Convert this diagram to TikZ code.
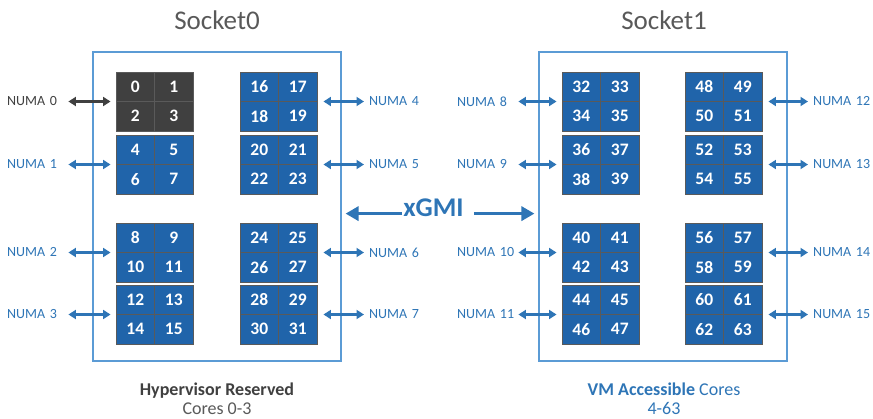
\documentclass[tikz,border=0pt]{standalone}
\usepackage{fontspec}
\setmainfont{Carlito}
\usetikzlibrary{arrows.meta,positioning,calc}
\definecolor{coreblue}{RGB}{32,100,170}
\definecolor{numablue}{RGB}{46,117,182}
\definecolor{sockline}{RGB}{91,155,213}
\definecolor{hvgray}{RGB}{64,64,64}
\definecolor{titlegray}{RGB}{89,89,89}
\definecolor{cellline}{RGB}{90,90,90}

\begin{document}
\begin{tikzpicture}[
  x=1pt, y=-1pt,
  socket/.style={draw=sockline, line width=1.1pt, minimum width=248pt, minimum height=309pt, inner sep=0pt},
  block/.style={draw=cellline!80, line width=0.9pt, minimum width=77pt, minimum height=59pt, inner sep=0pt},
  cell/.style={draw=cellline, line width=0.8pt, minimum width=38.5pt, minimum height=29.5pt, inner sep=0pt,
    text=white, font=\fontsize{17.5}{19}\selectfont\bfseries},
  numalab/.style={anchor=west, inner sep=0pt, text width=61pt, align=left, font=\fontsize{14}{16}\selectfont},
  title/.style={font=\fontsize{27}{30}\selectfont, text=titlegray},
  foot/.style={anchor=base, font=\fontsize{18}{20}\selectfont},
  biarr/.style={{Triangle[length=7.5pt,width=9pt]}-{Triangle[length=7.5pt,width=9pt]}, line width=2.2pt},
  xarr/.style={-{Triangle[length=13pt,width=14pt]}, line width=3.6pt, draw=numablue}
]
\useasboundingbox (0,0) rectangle (873,418);

% ---------- Sockets ----------
\node[socket] (s0) at (217,206.5) {};
\node[socket] (s1) at (663,206.5) {};
\node[title] (t0) at (217,20) {Socket0};
\node[title] (t1) at (664,20) {Socket1};

% ---------- NUMA blocks, cores and labels ----------
\foreach \k in {0,...,15}{
  \pgfmathtruncatemacro{\col}{2*int(\k/8)+int(mod(\k,8)/4)}
  \pgfmathtruncatemacro{\row}{mod(\k,4)}
  \pgfmathsetmacro{\bx}{{116,240,562,685}[\col]+38.5}
  \pgfmathsetmacro{\by}{{72,135,223,285}[\row]+29.5}
  \pgfmathsetmacro{\lx}{{7,369,457,813}[\col]}
  \pgfmathtruncatemacro{\na}{4*\k}
  \pgfmathtruncatemacro{\nb}{4*\k+1}
  \pgfmathtruncatemacro{\nc}{4*\k+2}
  \pgfmathtruncatemacro{\nd}{4*\k+3}
  \ifnum\k=0 \def\tone{hvgray}\def\ltone{hvgray}\else\def\tone{coreblue}\def\ltone{numablue}\fi
  \node[block, fill=\tone] (b\k) at (\bx,\by) {};
  \node[cell, fill=\tone] (c\na) at (\bx-19.25,\by-14.75) {\na};
  \node[cell, fill=\tone] (c\nb) at (\bx+19.25,\by-14.75) {\nb};
  \node[cell, fill=\tone] (c\nc) at (\bx-19.25,\by+14.75) {\nc};
  \node[cell, fill=\tone] (c\nd) at (\bx+19.25,\by+14.75) {\nd};
  \node[numalab, text=\ltone] (n\k) at (\lx,\by) {NUMA \k};
  \ifodd\col\relax
    \draw[biarr, \ltone, shorten <=6pt, shorten >=5pt] (b\k.east) -- (n\k.west);
  \else
    \draw[biarr, \ltone, shorten >=5pt] (n\k.east) -- (b\k.west);
  \fi
}

% ---------- Interconnect ----------
\node[font=\fontsize{27}{30}\selectfont\bfseries, text=numablue, inner sep=1pt, anchor=base] (xgmi) at (433.5,216) {xGMI};
\draw[xarr, shorten >=4pt] (xgmi.mid west) -- (xgmi.mid west -| s0.east);
\draw[xarr, shorten <=9pt, shorten >=4pt] (xgmi.mid east) -- (xgmi.mid east -| s1.west);

% ---------- Captions ----------
\node[foot, text=hvgray] (hyp) at (217,395) {\bfseries Hypervisor Reserved};
\node[foot, text=titlegray] (hypc) at (217,414) {Cores 0-3};
\node[foot, text=numablue] (vm) at (664,395) {\textbf{VM Accessible} Cores};
\node[foot, text=numablue] (vmc) at (664,414) {4-63};
\end{tikzpicture}
\end{document}
